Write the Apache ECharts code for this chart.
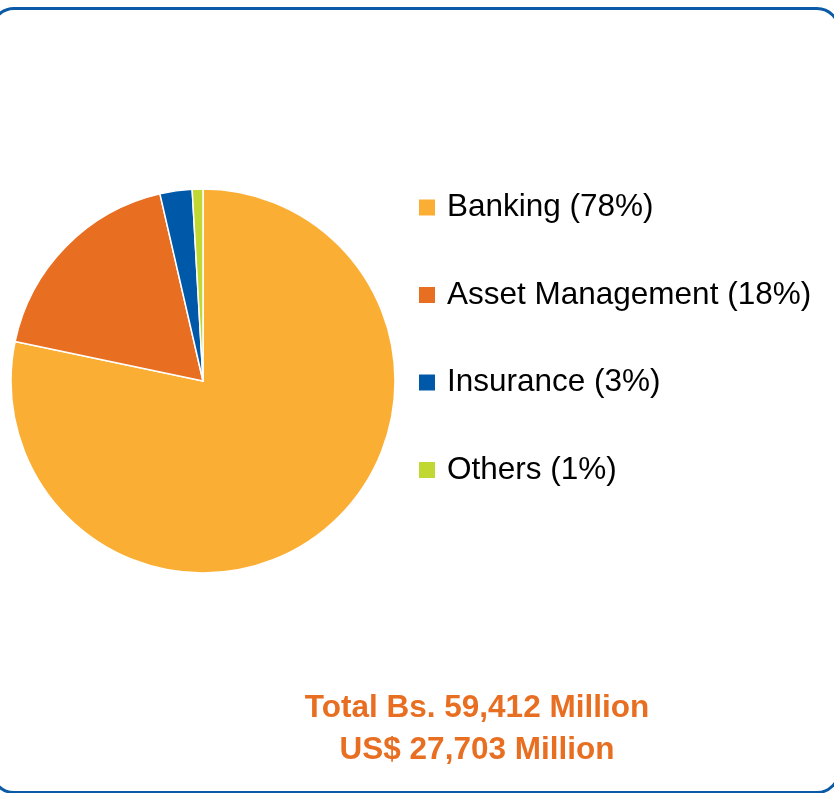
<!DOCTYPE html>
<html>
<head>
<meta charset="utf-8">
<script src="https://cdn.jsdelivr.net/npm/echarts@6/dist/echarts.min.js"></script>
<style>
html,body{margin:0;padding:0;background:#fff;}
#chart{width:834px;height:793px;}
</style>
</head>
<body>
<div id="chart"></div>
<script>
// Data
var categories = ['Banking', 'Asset Management', 'Insurance', 'Others'];
var shares = [78.3, 18.1, 2.7, 0.9];   // percent of total portfolio
var sliceColors = ['#FBAE34', '#E86E21', '#0058A8', '#C2D832'];
var totalLines = ['Total Bs. 59,412 Million', 'US$ 27,703 Million'];

var pieData = categories.map(function (c, i) {
  return { name: c, value: shares[i], itemStyle: { color: sliceColors[i] } };
});
var shareByName = {};
categories.forEach(function (c, i) { shareByName[c] = shares[i]; });

var chart = echarts.init(document.getElementById('chart'), null, { renderer: 'canvas' });
chart.setOption({
  animation: false,
  backgroundColor: '#ffffff',
  textStyle: { fontFamily: 'Liberation Sans, Arial, sans-serif' },
  legend: {
    orient: 'vertical',
    left: 419,
    top: 191.5,
    padding: 0,
    icon: 'rect',
    itemWidth: 16,
    itemHeight: 16,
    itemGap: 55.5,
    selectedMode: false,
    data: categories,
    itemStyle: { borderWidth: 0 },
    formatter: function (name) {
      return name + ' (' + Math.round(shareByName[name]) + '%)';
    },
    textStyle: {
      fontFamily: 'Liberation Sans, Arial, sans-serif',
      fontSize: 31.5,
      lineHeight: 31,
      color: '#000000',
      padding: [0, 0, 0, 7]
    }
  },
  graphic: [
    {
      type: 'rect',
      silent: true,
      shape: { x: -8, y: 8.5, width: 847, height: 784, r: 22 },
      style: { fill: 'none', stroke: '#0B5AA7', lineWidth: 3 }
    },
    {
      type: 'text',
      silent: true,
      style: {
        text: totalLines.join('\n'),
        x: 477,
        y: 687,
        align: 'center',
        verticalAlign: 'top',
        font: 'bold 31.5px "Liberation Sans", Arial, sans-serif',
        lineHeight: 42,
        fill: '#E86E21'
      }
    }
  ],
  series: [
    {
      type: 'pie',
      center: [203, 381],
      radius: 192,
      startAngle: 90,
      clockwise: true,
      label: { show: false },
      labelLine: { show: false },
      emphasis: { disabled: true },
      itemStyle: { borderColor: '#ffffff', borderWidth: 1.5 },
      data: pieData
    }
  ]
});
</script>
</body>
</html>
